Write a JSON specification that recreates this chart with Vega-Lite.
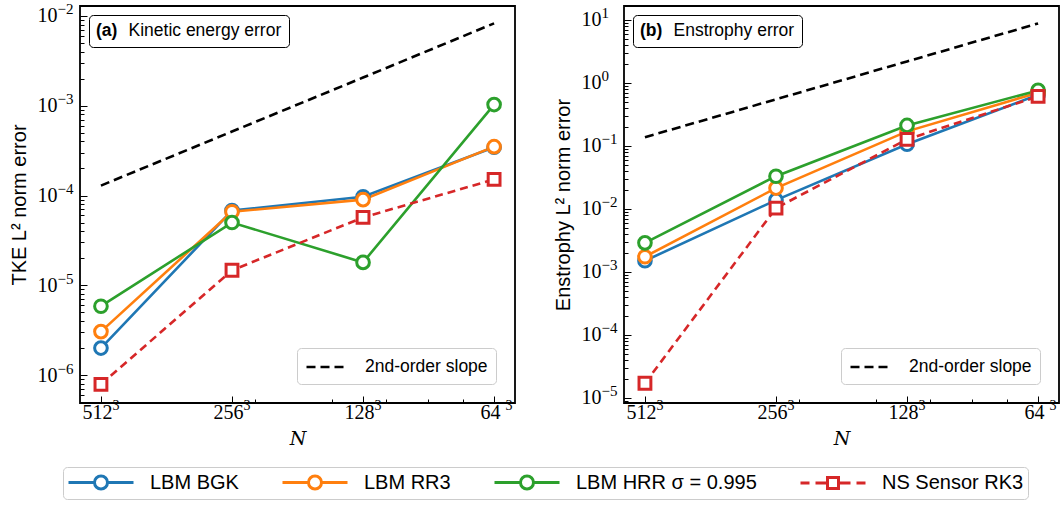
{
  "$schema": "https://vega.github.io/schema/vega-lite/v6.json",
  "padding": {"left": 8, "top": 1, "right": 0, "bottom": 0},
  "background": "white",
  "datasets": {
    "errs": [
      {"panel": "a", "series": "slope", "N": 512, "err": 1.29e-4},
      {"panel": "a", "series": "slope", "N": 256, "err": 5.16e-4},
      {"panel": "a", "series": "slope", "N": 128, "err": 2.06e-3},
      {"panel": "a", "series": "slope", "N": 64, "err": 8.26e-3},
      {"panel": "a", "series": "LBM BGK", "N": 512, "err": 2.0e-6},
      {"panel": "a", "series": "LBM BGK", "N": 256, "err": 6.8e-5},
      {"panel": "a", "series": "LBM BGK", "N": 128, "err": 9.7e-5},
      {"panel": "a", "series": "LBM BGK", "N": 64, "err": 3.45e-4},
      {"panel": "a", "series": "LBM RR3", "N": 512, "err": 3.05e-6},
      {"panel": "a", "series": "LBM RR3", "N": 256, "err": 6.6e-5},
      {"panel": "a", "series": "LBM RR3", "N": 128, "err": 9.0e-5},
      {"panel": "a", "series": "LBM RR3", "N": 64, "err": 3.5e-4},
      {"panel": "a", "series": "LBM HRR σ = 0.995", "N": 512, "err": 5.85e-6},
      {"panel": "a", "series": "LBM HRR σ = 0.995", "N": 256, "err": 5.0e-5},
      {"panel": "a", "series": "LBM HRR σ = 0.995", "N": 128, "err": 1.8e-5},
      {"panel": "a", "series": "LBM HRR σ = 0.995", "N": 64, "err": 1.03e-3},
      {"panel": "a", "series": "NS Sensor RK3", "N": 512, "err": 7.9e-7},
      {"panel": "a", "series": "NS Sensor RK3", "N": 256, "err": 1.47e-5},
      {"panel": "a", "series": "NS Sensor RK3", "N": 128, "err": 5.7e-5},
      {"panel": "a", "series": "NS Sensor RK3", "N": 64, "err": 1.51e-4},
      {"panel": "b", "series": "slope", "N": 512, "err": 0.137},
      {"panel": "b", "series": "slope", "N": 256, "err": 0.548},
      {"panel": "b", "series": "slope", "N": 128, "err": 2.19},
      {"panel": "b", "series": "slope", "N": 64, "err": 8.77},
      {"panel": "b", "series": "LBM BGK", "N": 512, "err": 1.5e-3},
      {"panel": "b", "series": "LBM BGK", "N": 256, "err": 0.0138},
      {"panel": "b", "series": "LBM BGK", "N": 128, "err": 0.106},
      {"panel": "b", "series": "LBM BGK", "N": 64, "err": 0.65},
      {"panel": "b", "series": "LBM RR3", "N": 512, "err": 1.74e-3},
      {"panel": "b", "series": "LBM RR3", "N": 256, "err": 0.0214},
      {"panel": "b", "series": "LBM RR3", "N": 128, "err": 0.17},
      {"panel": "b", "series": "LBM RR3", "N": 64, "err": 0.70},
      {"panel": "b", "series": "LBM HRR σ = 0.995", "N": 512, "err": 2.89e-3},
      {"panel": "b", "series": "LBM HRR σ = 0.995", "N": 256, "err": 0.033},
      {"panel": "b", "series": "LBM HRR σ = 0.995", "N": 128, "err": 0.211},
      {"panel": "b", "series": "LBM HRR σ = 0.995", "N": 64, "err": 0.76},
      {"panel": "b", "series": "NS Sensor RK3", "N": 512, "err": 1.71e-5},
      {"panel": "b", "series": "NS Sensor RK3", "N": 256, "err": 0.0103},
      {"panel": "b", "series": "NS Sensor RK3", "N": 128, "err": 0.127},
      {"panel": "b", "series": "NS Sensor RK3", "N": 64, "err": 0.61}
    ]
  },
  "spacing": 109,
  "bounds": "flush",
  "resolve": {
    "scale": {"strokeDash": "independent", "opacity": "independent"},
    "legend": {"strokeDash": "independent", "opacity": "independent", "stroke": "shared"}
  },
  "hconcat": [
    {
      "width": 435,
      "height": 397,
      "data": {"name": "errs"},
      "transform": [{"filter": "datum.panel == 'a'"}],
      "resolve": {"axis": {"x": "independent", "y": "independent"}},
      "layer": [
        {
          "transform": [{"filter": "datum.series == 'slope'"}],
          "mark": {"type": "line", "color": "black", "strokeWidth": 2.6},
          "encoding": {
            "x": {"field": "N", "type": "quantitative",
              "scale": {"type": "log", "domain": [57.3, 572], "reverse": true},
              "axis": {"orient": "bottom", "title": null, "grid": false, "ticks": false, "values": [512, 256, 128, 64], "labelExpr": "'3'", "labelAlign": "left", "labelBaseline": "alphabetic", "labelFontSize": 14, "labelOffset": 11, "labelPadding": 6}},
            "y": {"field": "err", "type": "quantitative",
              "scale": {"type": "log", "domain": [4.89e-7, 1.29e-2]},
              "axis": {"orient": "left", "title": null, "grid": false, "ticks": false, "values": [1e-6, 1e-5, 1e-4, 1e-3, 1e-2],
                "labelExpr": "replace('' + round(log(datum.value)/LN10), '-', '−')", "labelFontSize": 15, "labelOffset": -7, "labelPadding": 23, "labelAlign": "left"}},
            "strokeDash": {"datum": "2nd-order slope", "type": "nominal", "scale": {"range": [[9, 5]]},
              "legend": {"orient": "bottom-right", "offset": 19, "title": null, "labelFontSize": 17.5, "labelOffset": 38, "symbolSize": 361, "symbolType": "M-1,0H3", "symbolStrokeWidth": 2.6, "symbolStrokeColor": "black", "padding": 8, "strokeColor": "#cccccc", "cornerRadius": 4, "fillColor": "white",
                "encode": {"symbols": {"update": {"strokeDash": {"value": [7, 3.5]}}}}}},
            "opacity": {"datum": "Kinetic energy error", "type": "nominal", "scale": {"range": [1, 1]},
              "legend": {"orient": "top-left", "offset": 9, "title": "(a)", "titleOrient": "left", "titleFontWeight": "bold", "titleFontSize": 17.5, "titlePadding": 5, "titleBaseline": "middle", "labelFontSize": 17.5, "symbolSize": 0, "symbolOpacity": 0, "labelOffset": -12, "padding": 7, "strokeColor": "black", "cornerRadius": 4, "fillColor": "white",
                "encode": {"symbols": {"update": {"opacity": {"value": 0}}}, "legend": {"update": {"strokeWidth": {"value": 1.2}}}}}}
          }
        },
        {
          "encoding": {
            "x": {
              "field": "N", "type": "quantitative",
              "scale": {"type": "log", "domain": [57.3, 572], "reverse": true},
              "axis": {
                "orient": "bottom",
                "title": "N", "titleFont": "DejaVu Serif", "titleFontStyle": "italic", "titleFontSize": 19, "titleFontWeight": "normal", "titlePadding": 4,
                "values": [512, 256, 128, 64, 226.5, 151, 113.25, 90.6, 75.5],
                "labelExpr": "indexof([512,256,128,64], datum.value) >= 0 ? '' + datum.value : ''",
                "labelOffset": -4, "labelPadding": 6,
                "gridColor": {"condition": {"test": "indexof([512,256,128,64], datum.value) >= 0", "value": "#b0b0b0"}, "value": "#cfcfcf"},
                "tickSize": {"condition": {"test": "indexof([512,256,128,64], datum.value) >= 0", "value": -7}, "value": -4}
              }
            },
            "y": {
              "field": "err", "type": "quantitative",
              "scale": {"type": "log", "domain": [4.89e-7, 1.29e-2]},
              "axis": {
                "orient": "left",
                "title": "TKE L² norm error",
                "values": [5e-7, 6e-7, 7e-7, 8e-7, 9e-7, 1e-6, 2e-6, 3e-6, 4e-6, 5e-6, 6e-6, 7e-6, 8e-6, 9e-6, 1e-5, 2e-5, 3e-5, 4e-5, 5e-5, 6e-5, 7e-5, 8e-5, 9e-5, 1e-4, 2e-4, 3e-4, 4e-4, 5e-4, 6e-4, 7e-4, 8e-4, 9e-4, 1e-3, 2e-3, 3e-3, 4e-3, 5e-3, 6e-3, 7e-3, 8e-3, 9e-3, 1e-2],
                "labelExpr": "abs(log(datum.value)/LN10 - round(log(datum.value)/LN10)) < 0.001 ? '10' : ''",
                "labelPadding": 30,
                "gridColor": {"condition": {"test": "abs(log(datum.value)/LN10 - round(log(datum.value)/LN10)) < 0.001", "value": "#b0b0b0"}, "value": "#cfcfcf"},
                "tickSize": {"condition": {"test": "abs(log(datum.value)/LN10 - round(log(datum.value)/LN10)) < 0.001", "value": -7}, "value": -4}
              }
            }
          },
          "layer": [
            {
              "transform": [{"filter": "datum.series != 'slope' && datum.series != 'NS Sensor RK3'"}],
              "mark": {"type": "line", "strokeWidth": 2.6},
              "encoding": {"stroke": {"field": "series", "type": "nominal",
                "scale": {"domain": ["LBM BGK", "LBM RR3", "LBM HRR σ = 0.995", "NS Sensor RK3"], "range": ["#1f77b4", "#ff7f0e", "#2ca02c", "#d62728"]},
                "legend": {"orient": "none", "legendX": -17, "legendY": 461, "direction": "horizontal", "title": null,
                  "symbolSize": 400, "symbolStrokeWidth": 3, "symbolFillColor": "white", "labelFontSize": 20, "labelOffset": 60, "columnPadding": 37, "labelLimit": 400,
                  "padding": 4, "strokeColor": "#cccccc", "cornerRadius": 4, "fillColor": "white",
                  "encode": {"symbols": {"update": {
                    "shape": {"signal": "datum.value === 'NS Sensor RK3' ? 'M-1,0H-0.1M0.5,0H1.7M2.8,0H4M4.6,0H5.5M1.7,-0.55H2.8V0.55H1.7Z' : 'M-1,0H1.6M2.9,0H5.5M2.9,0A0.65,0.65,0,1,1,1.6,0A0.65,0.65,0,1,1,2.9,0Z'"},
                    "fill": {"value": "white"}, "strokeDash": {"value": []}, "opacity": {"value": 1}}}}}}}
            },
            {
              "transform": [{"filter": "datum.series == 'NS Sensor RK3'"}],
              "mark": {"type": "line", "strokeWidth": 2.6, "strokeDash": [8, 5]},
              "encoding": {"stroke": {"field": "series", "type": "nominal"}}
            },
            {
              "transform": [{"filter": "datum.series != 'slope' && datum.series != 'NS Sensor RK3'"}],
              "mark": {"type": "point", "shape": "circle", "filled": true, "fill": "white", "size": 160, "strokeWidth": 3, "opacity": 1},
              "encoding": {"stroke": {"field": "series", "type": "nominal"}}
            },
            {
              "transform": [{"filter": "datum.series == 'NS Sensor RK3'"}],
              "mark": {"type": "point", "shape": "square", "filled": true, "fill": "white", "size": 140, "strokeWidth": 3, "opacity": 1},
              "encoding": {"stroke": {"field": "series", "type": "nominal"}}
            }
          ]
        }
      ]
    },
    {
      "width": 435,
      "height": 397,
      "data": {"name": "errs"},
      "transform": [{"filter": "datum.panel == 'b'"}],
      "resolve": {"axis": {"x": "independent", "y": "independent"}},
      "layer": [
        {
          "transform": [{"filter": "datum.series == 'slope'"}],
          "mark": {"type": "line", "color": "black", "strokeWidth": 2.6},
          "encoding": {
            "x": {"field": "N", "type": "quantitative",
              "scale": {"type": "log", "domain": [57.3, 572], "reverse": true},
              "axis": {"orient": "bottom", "title": null, "grid": false, "ticks": false, "values": [512, 256, 128, 64], "labelExpr": "'3'", "labelAlign": "left", "labelBaseline": "alphabetic", "labelFontSize": 14, "labelOffset": 11, "labelPadding": 6}},
            "y": {"field": "err", "type": "quantitative",
              "scale": {"type": "log", "domain": [8.3e-6, 16.6]},
              "axis": {"orient": "left", "title": null, "grid": false, "ticks": false, "values": [1e-5, 1e-4, 1e-3, 1e-2, 0.1, 1, 10],
                "labelExpr": "replace('' + round(log(datum.value)/LN10), '-', '−')", "labelFontSize": 15, "labelOffset": -7, "labelPadding": 23, "labelAlign": "left"}},
            "strokeDash": {"datum": "2nd-order slope", "type": "nominal", "scale": {"range": [[9, 5]]},
              "legend": {"orient": "bottom-right", "offset": 19, "title": null, "labelFontSize": 17.5, "labelOffset": 38, "symbolSize": 361, "symbolType": "M-1,0H3", "symbolStrokeWidth": 2.6, "symbolStrokeColor": "black", "padding": 8, "strokeColor": "#cccccc", "cornerRadius": 4, "fillColor": "white",
                "encode": {"symbols": {"update": {"strokeDash": {"value": [7, 3.5]}}}}}},
            "opacity": {"datum": "Enstrophy error", "type": "nominal", "scale": {"range": [1, 1]},
              "legend": {"orient": "top-left", "offset": 9, "title": "(b)", "titleOrient": "left", "titleFontWeight": "bold", "titleFontSize": 17.5, "titlePadding": 5, "titleBaseline": "middle", "labelFontSize": 17.5, "symbolSize": 0, "symbolOpacity": 0, "labelOffset": -12, "padding": 7, "strokeColor": "black", "cornerRadius": 4, "fillColor": "white",
                "encode": {"symbols": {"update": {"opacity": {"value": 0}}}, "legend": {"update": {"strokeWidth": {"value": 1.2}}}}}}
          }
        },
        {
          "encoding": {
            "x": {
              "field": "N", "type": "quantitative",
              "scale": {"type": "log", "domain": [57.3, 572], "reverse": true},
              "axis": {
                "orient": "bottom",
                "title": "N", "titleFont": "DejaVu Serif", "titleFontStyle": "italic", "titleFontSize": 19, "titleFontWeight": "normal", "titlePadding": 4,
                "values": [512, 256, 128, 64, 226.5, 151, 113.25, 90.6, 75.5],
                "labelExpr": "indexof([512,256,128,64], datum.value) >= 0 ? '' + datum.value : ''",
                "labelOffset": -4, "labelPadding": 6,
                "gridColor": {"condition": {"test": "indexof([512,256,128,64], datum.value) >= 0", "value": "#b0b0b0"}, "value": "#cfcfcf"},
                "tickSize": {"condition": {"test": "indexof([512,256,128,64], datum.value) >= 0", "value": -7}, "value": -4}
              }
            },
            "y": {
              "field": "err", "type": "quantitative",
              "scale": {"type": "log", "domain": [8.3e-6, 16.6]},
              "axis": {
                "orient": "left",
                "title": "Enstrophy L² norm error",
                "values": [9e-6, 1e-5, 2e-5, 3e-5, 4e-5, 5e-5, 6e-5, 7e-5, 8e-5, 9e-5, 1e-4, 2e-4, 3e-4, 4e-4, 5e-4, 6e-4, 7e-4, 8e-4, 9e-4, 1e-3, 2e-3, 3e-3, 4e-3, 5e-3, 6e-3, 7e-3, 8e-3, 9e-3, 1e-2, 2e-2, 3e-2, 4e-2, 5e-2, 6e-2, 7e-2, 8e-2, 9e-2, 0.1, 0.2, 0.3, 0.4, 0.5, 0.6, 0.7, 0.8, 0.9, 1, 2, 3, 4, 5, 6, 7, 8, 9, 10],
                "labelExpr": "abs(log(datum.value)/LN10 - round(log(datum.value)/LN10)) < 0.001 ? '10' : ''",
                "labelPadding": 30,
                "gridColor": {"condition": {"test": "abs(log(datum.value)/LN10 - round(log(datum.value)/LN10)) < 0.001", "value": "#b0b0b0"}, "value": "#cfcfcf"},
                "tickSize": {"condition": {"test": "abs(log(datum.value)/LN10 - round(log(datum.value)/LN10)) < 0.001", "value": -7}, "value": -4}
              }
            }
          },
          "layer": [
            {
              "transform": [{"filter": "datum.series != 'slope' && datum.series != 'NS Sensor RK3'"}],
              "mark": {"type": "line", "strokeWidth": 2.6},
              "encoding": {"stroke": {"field": "series", "type": "nominal"}}
            },
            {
              "transform": [{"filter": "datum.series == 'NS Sensor RK3'"}],
              "mark": {"type": "line", "strokeWidth": 2.6, "strokeDash": [8, 5]},
              "encoding": {"stroke": {"field": "series", "type": "nominal"}}
            },
            {
              "transform": [{"filter": "datum.series != 'slope' && datum.series != 'NS Sensor RK3'"}],
              "mark": {"type": "point", "shape": "circle", "filled": true, "fill": "white", "size": 160, "strokeWidth": 3, "opacity": 1},
              "encoding": {"stroke": {"field": "series", "type": "nominal"}}
            },
            {
              "transform": [{"filter": "datum.series == 'NS Sensor RK3'"}],
              "mark": {"type": "point", "shape": "square", "filled": true, "fill": "white", "size": 140, "strokeWidth": 3, "opacity": 1},
              "encoding": {"stroke": {"field": "series", "type": "nominal"}}
            }
          ]
        }
      ]
    }
  ],
  "config": {
    "font": "Liberation Sans",
    "view": {"stroke": "black", "strokeWidth": 1.8},
    "axis": {
      "domain": false,
      "grid": true,
      "gridDash": [1.5, 2],
      "gridWidth": 0.8,
      "ticks": true,
      "tickColor": "black",
      "tickWidth": 1,
      "labelFont": "Liberation Serif",
      "labelFontSize": 20,
      "labelColor": "black",
      "labelOverlap": false,
      "labelBound": false,
      "labelFlush": false,
      "titleFont": "Liberation Sans",
      "titleFontSize": 20,
      "titleFontWeight": "normal",
      "titleColor": "black",
      "titlePadding": 8
    },
    "legend": {
      "labelFont": "Liberation Sans",
      "labelColor": "black",
      "titleFont": "Liberation Sans",
      "titleColor": "black"
    },
    "line": {"strokeCap": "butt"}
  }
}
